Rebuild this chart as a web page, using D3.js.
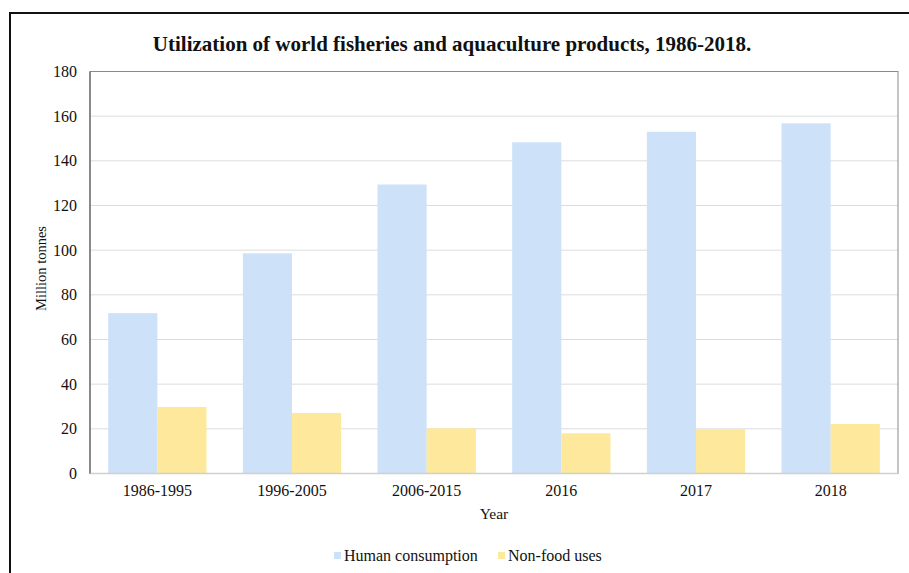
<!DOCTYPE html>
<html>
<head>
<meta charset="utf-8">
<script src="https://cdn.jsdelivr.net/npm/d3@7"></script>
<style>
  body { margin: 0; background: #fff; }
  svg { display: block; font-family: "Liberation Serif", "Times New Roman", serif; }
</style>
</head>
<body>
<div id="chart"></div>
<script>
const categories = ["1986-1995", "1996-2005", "2006-2015", "2016", "2017", "2018"];
const seriesNames = ["Human consumption", "Non-food uses"];
const humanConsumption = [71.8, 98.6, 129.4, 148.3, 153.0, 156.8];
const nonFoodUses = [29.8, 27.1, 20.2, 18.0, 19.8, 22.2];
const yTicks = [0, 20, 40, 60, 80, 100, 120, 140, 160, 180];

const width = 909, height = 573;
const margin = { top: 71.5, right: 11, bottom: 99.5, left: 90 };

const colors = ["#cde2f8", "#fde89b"];

const svg = d3
  .select("#chart")
  .append("svg")
  .attr("width", width)
  .attr("height", height);

// outer frame (top and left edges visible)
svg.append("line")
  .attr("x1", 10).attr("x2", width).attr("y1", 13).attr("y2", 13)
  .attr("stroke", "#111").attr("stroke-width", 2);
svg.append("line")
  .attr("x1", 10).attr("x2", 10).attr("y1", 12).attr("y2", height)
  .attr("stroke", "#111").attr("stroke-width", 2);

const data = categories.map((c, i) => ({
  cat: c,
  values: [humanConsumption[i], nonFoodUses[i]],
}));

const x0 = d3
  .scaleBand()
  .domain(categories)
  .range([margin.left, width - margin.right])
  .paddingInner(0.27)
  .paddingOuter(0.135);

const x1 = d3.scaleBand().domain([0, 1]).range([0, x0.bandwidth()]);

const y = d3
  .scaleLinear()
  .domain([0, 180])
  .range([height - margin.bottom, margin.top]);

// gridlines
svg.append("g")
  .selectAll("line")
  .data(yTicks.filter((t) => t > 0))
  .join("line")
  .attr("x1", margin.left)
  .attr("x2", width - margin.right)
  .attr("y1", (d) => y(d))
  .attr("y2", (d) => y(d))
  .attr("stroke", "#dcdcdc")
  .attr("stroke-width", 1);

// bars
const groups = svg.append("g")
  .selectAll("g")
  .data(data)
  .join("g")
  .attr("transform", (d) => `translate(${x0(d.cat)},0)`);

groups
  .selectAll("rect")
  .data((d) => d.values.map((v, i) => ({ v, i })))
  .join("rect")
  .attr("x", (d) => x1(d.i))
  .attr("width", x1.bandwidth())
  .attr("y", (d) => y(d.v))
  .attr("height", (d) => y(0) - y(d.v))
  .attr("fill", (d) => colors[d.i]);

// plot box (top / right in gray, left & bottom axes)
svg.append("rect")
  .attr("x", margin.left)
  .attr("y", margin.top)
  .attr("width", width - margin.right - margin.left)
  .attr("height", y(0) - margin.top)
  .attr("fill", "none")
  .attr("stroke", "#8a8a8a")
  .attr("stroke-width", 1);

svg.append("line")
  .attr("x1", margin.left).attr("x2", width - margin.right)
  .attr("y1", y(0)).attr("y2", y(0))
  .attr("stroke", "#d0d0d0").attr("stroke-width", 1.5);
svg.append("line")
  .attr("x1", margin.left).attr("x2", margin.left)
  .attr("y1", margin.top).attr("y2", y(0))
  .attr("stroke", "#777").attr("stroke-width", 1.5);

// y axis labels
const yAxis = svg.append("g")
  .attr("transform", `translate(${margin.left},0)`)
  .call(d3.axisLeft(y).tickValues(yTicks).tickSize(0).tickPadding(13));
yAxis.select(".domain").remove();
yAxis.selectAll("text")
  .attr("font-family", "Liberation Serif, serif")
  .attr("font-size", 16)
  .attr("fill", "#111");

// x axis labels
const xAxis = svg.append("g")
  .attr("transform", `translate(0,${y(0)})`)
  .call(d3.axisBottom(x0).tickSize(0).tickPadding(11));
xAxis.select(".domain").remove();
xAxis.selectAll("text")
  .attr("font-family", "Liberation Serif, serif")
  .attr("font-size", 16)
  .attr("fill", "#111");

// axis titles
svg.append("text")
  .attr("x", (margin.left + width - margin.right) / 2)
  .attr("y", 519)
  .attr("text-anchor", "middle")
  .attr("font-size", 15.5)
  .attr("fill", "#111")
  .text("Year");

svg.append("text")
  .attr("transform", `translate(46,${(margin.top + y(0)) / 2 - 4}) rotate(-90)`)
  .attr("text-anchor", "middle")
  .attr("font-size", 14.5)
  .attr("fill", "#111")
  .text("Million tonnes");

// title
svg.append("text")
  .attr("x", 452)
  .attr("y", 51)
  .attr("text-anchor", "middle")
  .attr("font-size", 21)
  .attr("font-weight", "bold")
  .attr("fill", "#111")
  .text("Utilization of world fisheries and aquaculture products, 1986-2018.");

// legend
const legendX = [334, 498];
const legend = svg.append("g")
  .selectAll("g")
  .data(seriesNames)
  .join("g")
  .attr("transform", (d, i) => `translate(${legendX[i]},556)`);
legend.append("rect")
  .attr("x", 0).attr("y", -4)
  .attr("width", 7).attr("height", 7)
  .attr("fill", (d, i) => colors[i]);
legend.append("text")
  .attr("x", 10)
  .attr("y", 5)
  .attr("font-size", 16)
  .attr("fill", "#111")
  .text((d) => d);
</script>
</body>
</html>
